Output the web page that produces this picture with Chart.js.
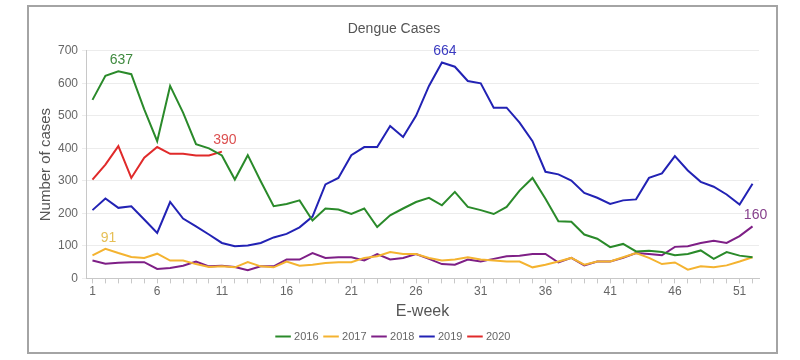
<!DOCTYPE html>
<html>
<head>
<meta charset="utf-8">
<script src="https://cdn.jsdelivr.net/npm/chart.js@4/dist/chart.umd.min.js"></script>
<style>
  html, body { margin: 0; padding: 0; background: #fff; }
  #frame {
    position: absolute; left: 27px; top: 5px;
    width: 747px; height: 345px;
    border: 2px solid #a4a4a4;
    background: #fff;
  }
  canvas { display: block; }
</style>
</head>
<body>
<div id="frame"><canvas id="chart" width="747" height="345"></canvas></div>
<script>
const weeks = [];
for (let w = 1; w <= 52; w++) weeks.push(String(w));

const cases2016 = [549, 623, 637, 628, 520, 422, 592, 510, 413, 400, 378, 304, 379, 299, 222, 229, 240,
  178, 215, 212, 198, 215, 158, 194, 215, 235, 248, 225, 266, 220, 210, 198, 220, 270, 309,
  245, 176, 174, 135, 122, 96, 106, 83, 85, 81, 71, 75, 86, 60, 81, 70, 65];
const cases2017 = [71, 91, 78, 66, 63, 76, 55, 55, 44, 35, 37, 34, 50, 37, 34, 52, 39,
  42, 47, 50, 50, 63, 68, 81, 75, 75, 63, 55, 58, 65, 58, 55, 52, 52, 34,
  42, 52, 63, 42, 52, 52, 65, 78, 63, 44, 49, 27, 37, 34, 40, 52, 65];
const cases2018 = [55, 45, 48, 50, 50, 29, 32, 39, 52, 37, 39, 35, 25, 37, 37, 58, 58,
  78, 63, 65, 65, 55, 75, 58, 63, 75, 60, 44, 42, 58, 52, 60, 68, 70, 75,
  75, 49, 63, 40, 52, 52, 63, 78, 75, 71, 97, 99, 109, 116, 109, 130, 160];
const cases2019 = [210, 246, 217, 222, 181, 140, 235, 184, 160, 135, 109, 99, 101, 109, 126, 137, 157,
  190, 289, 309, 379, 404, 404, 469, 435, 500, 592, 664, 651, 607, 600, 525, 525, 479, 422,
  328, 320, 301, 263, 248, 229, 240, 243, 309, 323, 376, 332, 297, 282, 258, 227, 291];
const cases2020 = [304, 350, 407, 309, 371, 404, 383, 383, 378, 378, 390];

const seriesNames = ["2016", "2017", "2018", "2019", "2020"];
const seriesColors = ["#2a8a2a", "#f4b330", "#7e1f86", "#2222b4", "#e02a2a"];

// value callouts: [series index, week index, text colour]
const callouts = [
  [0, 2, "#3f8a3f"],
  [1, 1, "#e6bf55"],
  [4, 10, "#dc5050"],
  [3, 27, "#3b3bc0"],
  [2, 51, "#86408c"]
];

const calloutPlugin = {
  id: "callouts",
  afterDatasetsDraw(chart) {
    const ctx = chart.ctx;
    ctx.save();
    ctx.font = "14px 'Liberation Sans', Arial, sans-serif";
    ctx.textAlign = "center";
    ctx.textBaseline = "bottom";
    callouts.forEach(([ds, idx, color]) => {
      const pt = chart.getDatasetMeta(ds).data[idx];
      const val = chart.data.datasets[ds].data[idx];
      ctx.fillStyle = color;
      ctx.fillText(String(val), pt.x + 3, pt.y - 4);
    });
    ctx.restore();
  }
};

const allSeries = [cases2016, cases2017, cases2018, cases2019, cases2020];

new Chart(document.getElementById("chart"), {
  type: "line",
  data: {
    labels: weeks,
    datasets: allSeries.map((d, i) => ({
      label: seriesNames[i],
      data: d,
      borderColor: seriesColors[i],
      backgroundColor: seriesColors[i],
      borderWidth: 2,
      pointRadius: 0,
      tension: 0,
      fill: false
    }))
  },
  plugins: [calloutPlugin],
  options: {
    responsive: false,
    animation: false,
    layout: { padding: { left: 0, right: 17, top: 0, bottom: 0 } },
    plugins: {
      title: {
        display: true,
        text: "Dengue Cases",
        color: "#555",
        font: { size: 14, family: "'Liberation Sans', Arial, sans-serif", weight: "normal" },
        padding: { top: 14, bottom: 13 }
      },
      legend: {
        position: "bottom",
        labels: {
          usePointStyle: true,
          pointStyle: "line",
          boxWidth: 12,
          color: "#666",
          font: { size: 11, family: "'Liberation Sans', Arial, sans-serif" },
          padding: 7
        }
      },
      tooltip: { enabled: false }
    },
    scales: {
      x: {
        offset: true,
        title: {
          display: true,
          text: "E-week",
          color: "#555",
          font: { size: 16, family: "'Liberation Sans', Arial, sans-serif" },
          padding: { top: 2, bottom: 3 }
        },
        grid: { drawOnChartArea: false, drawTicks: true, tickLength: 5, color: "#c8c8c8" },
        border: { color: "#c8c8c8" },
        ticks: {
          autoSkip: false,
          maxRotation: 0,
          padding: 1,
          color: "#666",
          font: { size: 12, family: "'Liberation Sans', Arial, sans-serif" },
          callback: function (value, index) {
            return index % 5 === 0 ? this.getLabelForValue(value) : "";
          }
        }
      },
      y: {
        min: 0,
        max: 700,
        title: {
          display: true,
          text: "Number of cases",
          color: "#555",
          font: { size: 15, family: "'Liberation Sans', Arial, sans-serif" },
          padding: { top: 8, bottom: 0 }
        },
        grid: { color: "#ececec", tickLength: 4 },
        border: { color: "#c8c8c8" },
        ticks: {
          stepSize: 100,
          color: "#666",
          font: { size: 12, family: "'Liberation Sans', Arial, sans-serif" },
          padding: 4
        },
        afterFit(scale) { scale.width = 57; }
      }
    }
  }
});
</script>
</body>
</html>
